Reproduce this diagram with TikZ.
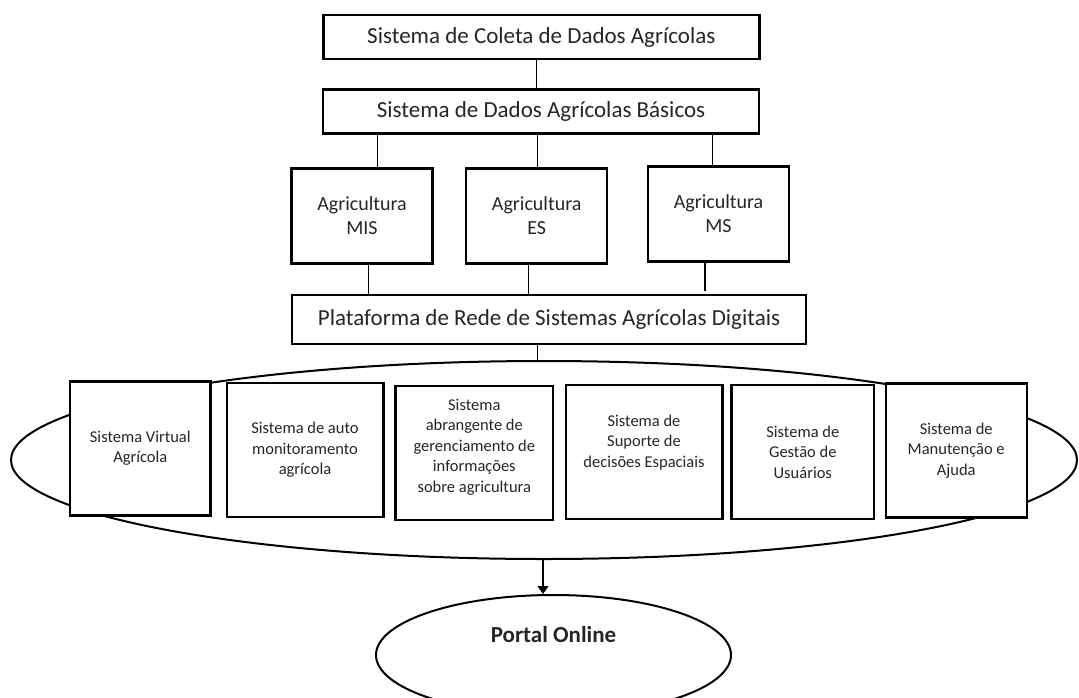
\documentclass[tikz,border=0pt]{standalone}
\usepackage{fontspec}
\setmainfont{Carlito}
\usetikzlibrary{shapes.geometric,arrows.meta}
\begin{document}
\begin{tikzpicture}[x=1pt,y=-1pt,
  bigbox/.style={draw, line width=2.4pt, fill=white, inner sep=0pt, align=center,
    text=black!85, font=\fontsize{23}{27}\selectfont},
  agrbox/.style={draw, line width=2.4pt, fill=white, inner sep=0pt, align=center,
    text=black!85, font=\fontsize{20}{24}\selectfont, minimum width=141pt, minimum height=95pt},
  subbox/.style={draw, line width=2.4pt, fill=white, inner sep=0pt, align=center,
    text=black!85, minimum height=134pt, font=\fontsize{16.5}{20.5}\selectfont},
  subtext/.style={align=center, inner sep=0pt, text=black!85, font=\fontsize{16.5}{20.5}\selectfont},
  oval/.style={draw, ellipse, line width=2pt, inner sep=0pt},
  link/.style={line width=1.1pt},
]
\useasboundingbox (0,0) rectangle (1079,697);
\fill[white] (0,0) rectangle (1079,697);

% upper chain of systems
\node[bigbox, minimum width=436pt, minimum height=44pt] (coleta) at (541.3,37.2)
  {Sistema de Coleta de Dados Agrícolas};
\node[bigbox, minimum width=436pt, minimum height=44pt] (basicos) at (541,111.3)
  {Sistema de Dados Agrícolas Básicos};
\node[agrbox] (mis) at (362,215.8) {Agricultura\\MIS};
\node[agrbox] (es) at (536.7,215.8) {Agricultura\\ES};
\node[agrbox] (ms) at (718.5,213.9) {Agricultura\\MS};
\node[bigbox, minimum width=514pt, minimum height=49pt] (rede) at (549,319.5)
  {Plataforma de Rede de Sistemas Agrícolas Digitais};

% ring that groups the subsystems (drawn first, boxes sit on top)
\node[oval, minimum width=1066pt, minimum height=198pt] (anel) at (544,460) {};

\node[subbox, minimum width=140.7pt] (b1) at (140.3,448.3) {Sistema Virtual\\Agrícola};
\node[subbox, minimum width=156.6pt] (b2) at (305,449.7) {Sistema de auto\\monitoramento\\agrícola};
\node[subbox, minimum width=157.3pt] (b3) at (474.3,453) {};
\node[subtext] (b3txt) at ([yshift=6pt]b3.center)
  {Sistema\\abrangente de\\gerenciamento de\\informações\\sobre agricultura};
\node[subbox, minimum width=156.6pt] (b4) at (644,452.2) {};
\node[subtext] (b4txt) at ([yshift=10pt]b4.center)
  {Sistema de\\Suporte de\\decisões Espaciais};
\node[subbox, minimum width=142.3pt] (b5) at (802.8,452.2) {Sistema de\\Gestão de\\Usuários};
\node[subbox, minimum width=141pt] (b6) at (956.2,450.5) {Sistema de\\Manutenção e\\Ajuda};

% final portal
\node[oval, minimum width=355pt, minimum height=120pt] (portal) at (553.5,655) {};
\node[inner sep=0pt, text=black!85, font=\fontsize{23}{27}\selectfont\bfseries] (portaltxt)
  at ([yshift=20pt]portal.center) {Portal Online};

% x positions of the connectors
\coordinate (xa) at (536.7,0);
\coordinate (xb) at (377.7,0);
\coordinate (xc) at (537.3,0);
\coordinate (xd) at (712.7,0);
\coordinate (xe) at (368.3,0);
\coordinate (xf) at (528.3,0);
\coordinate (xg) at (705,0);
\coordinate (xh) at (543,0);

\draw[link] (coleta.south -| xa) -- (basicos.north -| xa);
\draw[link] (basicos.south -| xb) -- (mis.north -| xb);
\draw[link] (basicos.south -| xc) -- (es.north -| xc);
\draw[link] (basicos.south -| xd) -- (ms.north -| xd);
\draw[link] (mis.south -| xe) -- (rede.north -| xe);
\draw[link] (es.south -| xf) -- (rede.north -| xf);
\draw[link, shorten >=3pt] (ms.south -| xg) -- (rede.north -| xg);
\draw[link] (rede.south -| xc) -- (anel.north -| xc);
\draw[link, -{Triangle[width=11pt,length=8pt]}] (anel.south -| xh) -- (portal.north -| xh);
\end{tikzpicture}
\end{document}
